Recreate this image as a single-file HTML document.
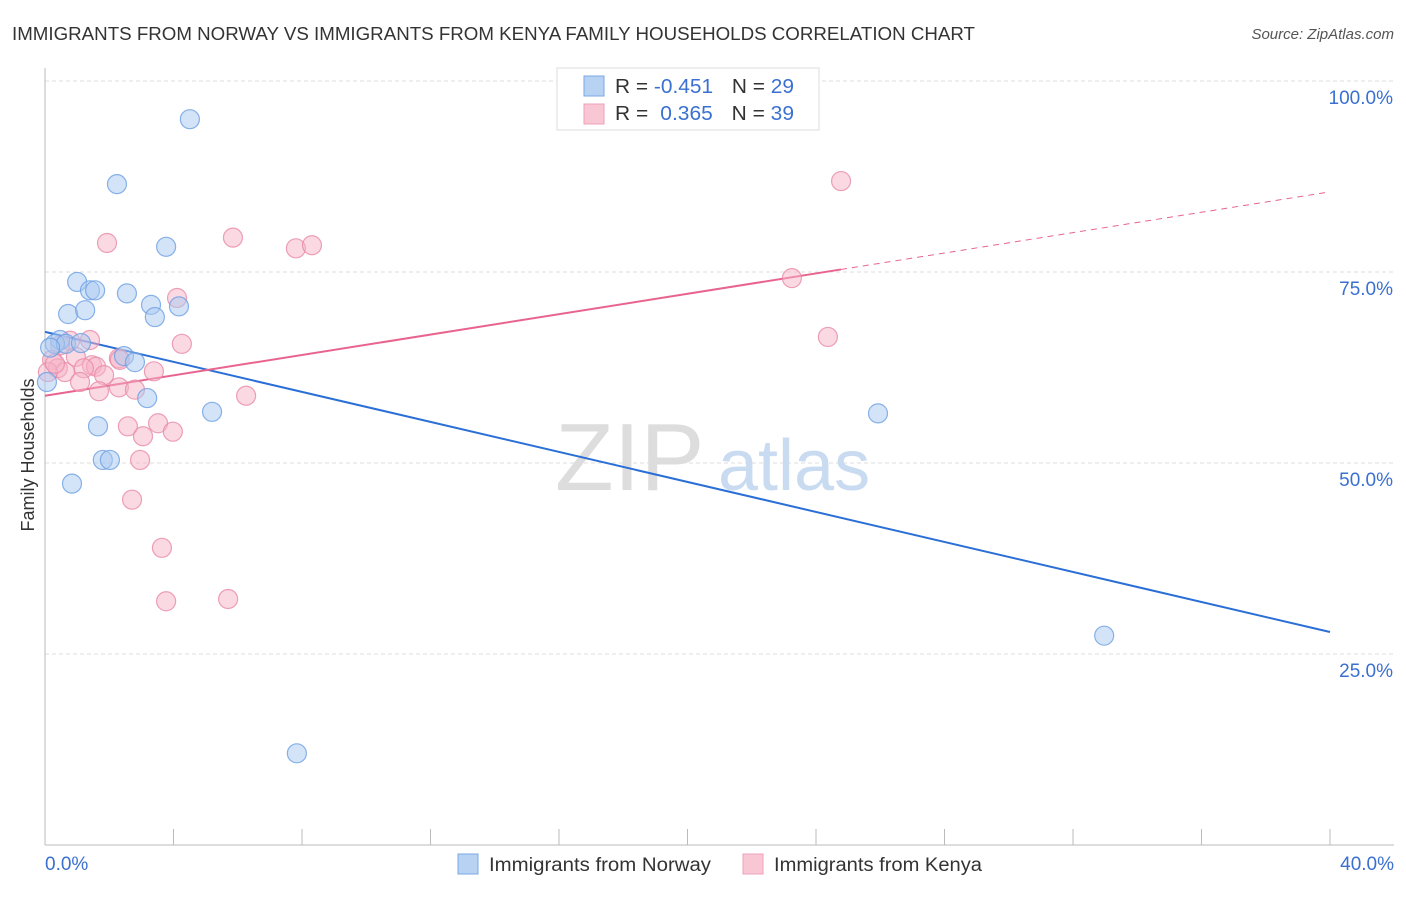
<!DOCTYPE html>
<html><head><meta charset="utf-8"><style>
body{margin:0;background:#fff;font-family:"Liberation Sans",sans-serif;}
svg text{font-family:"Liberation Sans",sans-serif;}
</style></head><body>
<svg id="chart" width="1406" height="892" viewBox="0 0 1406 892">
<text x="12" y="40" font-size="18" fill="#333" textLength="963" lengthAdjust="spacingAndGlyphs">IMMIGRANTS FROM NORWAY VS IMMIGRANTS FROM KENYA FAMILY HOUSEHOLDS CORRELATION CHART</text>
<text x="1394" y="39" font-size="15" fill="#555" text-anchor="end" font-style="italic">Source: ZipAtlas.com</text>
<g id="grid"></g>
<g id="watermark">
<text x="555" y="490" font-size="96" fill="#ddd" font-family="Liberation Serif,serif">ZIP</text>
<text x="718" y="490" font-size="72" fill="#c9dbf0">atlas</text>
</g>
<g id="axes"></g>
<g id="lines"></g>
<g id="points"></g>
<text transform="translate(34,455) rotate(-90)" font-size="18" fill="#333" text-anchor="middle">Family Households</text>
<g>
<rect x="557" y="68" width="262" height="62" fill="#fff" stroke="#ddd"/>
<rect x="584" y="76" width="20" height="20" fill="#b8d2f4" stroke="#7aa8e6"/>
<rect x="584" y="104" width="20" height="20" fill="#f9c6d4" stroke="#eea0b8"/>
<text x="615" y="93" font-size="20" fill="#333" textLength="179" lengthAdjust="spacingAndGlyphs">R = <tspan fill="#3a70d0">-0.451</tspan><tspan dx="18">N = </tspan><tspan fill="#3a70d0">29</tspan></text>
<text x="615" y="120" font-size="20" fill="#333" textLength="179" lengthAdjust="spacingAndGlyphs">R = <tspan fill="#3a70d0" dx="6">0.365</tspan><tspan dx="18">N = </tspan><tspan fill="#3a70d0">39</tspan></text>
</g>
<g>
<rect x="458" y="854" width="20" height="20" fill="#b8d2f4" stroke="#7aa8e6"/>
<text x="489" y="871" font-size="19" fill="#333" textLength="222" lengthAdjust="spacingAndGlyphs">Immigrants from Norway</text>
<rect x="743" y="854" width="20" height="20" fill="#f9c6d4" stroke="#eea0b8"/>
<text x="774" y="871" font-size="19" fill="#333" textLength="208" lengthAdjust="spacingAndGlyphs">Immigrants from Kenya</text>
</g>
</svg>
<script>
const norwayX=[4.51,2.24,3.77,1.0,1.4,1.56,2.55,3.3,3.42,4.17,0.72,1.25,0.47,0.31,0.65,1.12,2.46,2.8,3.18,5.2,1.65,1.8,2.02,0.84,25.93,32.97,7.84,0.06,0.16];
const norwayY=[95.0,86.5,78.3,73.7,72.6,72.6,72.2,70.7,69.1,70.5,69.5,70.0,66.1,65.6,65.6,65.7,64.0,63.2,58.5,56.7,54.8,50.4,50.4,47.3,56.5,27.4,12.0,60.6,65.1];
const kenyaX=[1.93,5.85,7.81,8.31,24.78,23.25,4.11,24.37,4.26,0.78,0.47,0.22,0.4,0.62,0.96,1.46,1.59,2.3,2.33,1.84,1.21,1.09,1.68,2.3,2.8,3.39,6.26,2.58,3.52,3.05,3.98,2.96,2.71,3.64,3.77,5.7,0.09,0.31,1.4];
const kenyaY=[78.8,79.5,78.1,78.5,86.9,74.2,71.6,66.5,65.6,66.0,65.4,63.5,62.4,61.9,63.9,62.8,62.6,63.7,63.5,61.5,62.4,60.6,59.4,59.9,59.6,62.0,58.8,54.8,55.2,53.5,54.1,50.4,45.2,38.9,31.9,32.2,61.9,63.0,66.1];
const yTicks=[25,50,75,100];
const yTickLabels=["25.0%","50.0%","75.0%","100.0%"];
const xTicks=[0,4,8,12,16,20,24,28,32,36,40];
const xEndLabels=["0.0%","40.0%"];
const NS="http://www.w3.org/2000/svg";
const X0=45,X1=1330,Y0=845,YTOP=81;
function sx(v){return X0+(v/40)*(X1-X0);}
function sy(v){return Y0-(v/100)*(Y0-YTOP);}
function mk(tag,attrs,parent){const e=document.createElementNS(NS,tag);for(const k in attrs)e.setAttribute(k,attrs[k]);parent.appendChild(e);return e;}
const grid=document.getElementById('grid'),axes=document.getElementById('axes'),lines=document.getElementById('lines'),pts=document.getElementById('points');
yTicks.forEach((t,i)=>{
 const l=mk('line',{x1:X0,x2:1394,y1:sy(t),y2:sy(t),stroke:'#ddd','stroke-dasharray':'4,3'},grid);
 
 
 const tx=mk('text',{x:1393,y:sy(t)+23,'font-size':19,fill:'#3a70d0','text-anchor':'end'},axes);
 tx.textContent=yTickLabels[i];
 
 
});
const ya=mk('line',{x1:X0,x2:X0,y1:68,y2:Y0,stroke:'#bbb'},axes);


const xa=mk('line',{x1:X0,x2:1394,y1:Y0,y2:Y0,stroke:'#bbb'},axes);


xTicks.forEach(t=>{
 const l=mk('line',{x1:sx(t),x2:sx(t),y1:Y0-16,y2:Y0,stroke:'#bbb'},axes);
 
 
});
[[0,'start',45],[40,'end',1394]].forEach((d,i)=>{
 const tx=mk('text',{x:d[2],y:870,'font-size':19,fill:'#3a70d0','text-anchor':d[1]},axes);
 tx.textContent=xEndLabels[i];
 
 
});
function reg(xs,ys){const n=xs.length;let mx=0,my=0;for(let i=0;i<n;i++){mx+=xs[i];my+=ys[i];}mx/=n;my/=n;let a=0,b=0;for(let i=0;i<n;i++){a+=(xs[i]-mx)*(ys[i]-my);b+=(xs[i]-mx)**2;}const s=a/b;return[s,my-s*mx];}
function drawPts(xs,ys,fill,stroke,name){xs.forEach((x,i)=>{
 const c=mk('circle',{cx:sx(x),cy:sy(ys[i]),r:9.5,fill:fill,'fill-opacity':0.5,stroke:stroke,'stroke-opacity':0.8,'stroke-width':1.2},pts);
 
 
});}
drawPts(kenyaX,kenyaY,'#f6b3c8','#e98aa8','kenya-point');
drawPts(norwayX,norwayY,'#a9c9f1','#6b9fe2','norway-point');
const [sb,ib]=reg(norwayX,norwayY);
const bl=mk('line',{x1:sx(0),y1:sy(ib),x2:sx(40),y2:sy(ib+sb*40),stroke:'#2a6fd6','stroke-width':2},lines);


const [sk,ik]=reg(kenyaX,kenyaY);const kmax=Math.max(...kenyaX);
const kl=mk('line',{x1:sx(0),y1:sy(ik),x2:sx(kmax),y2:sy(ik+sk*kmax),stroke:'#e8648e','stroke-width':2},lines);


const kd=mk('line',{x1:sx(kmax),y1:sy(ik+sk*kmax),x2:sx(40),y2:sy(ik+sk*40),stroke:'#e8648e','stroke-width':1,'stroke-dasharray':'6,5'},lines);


</script>
</body></html>
